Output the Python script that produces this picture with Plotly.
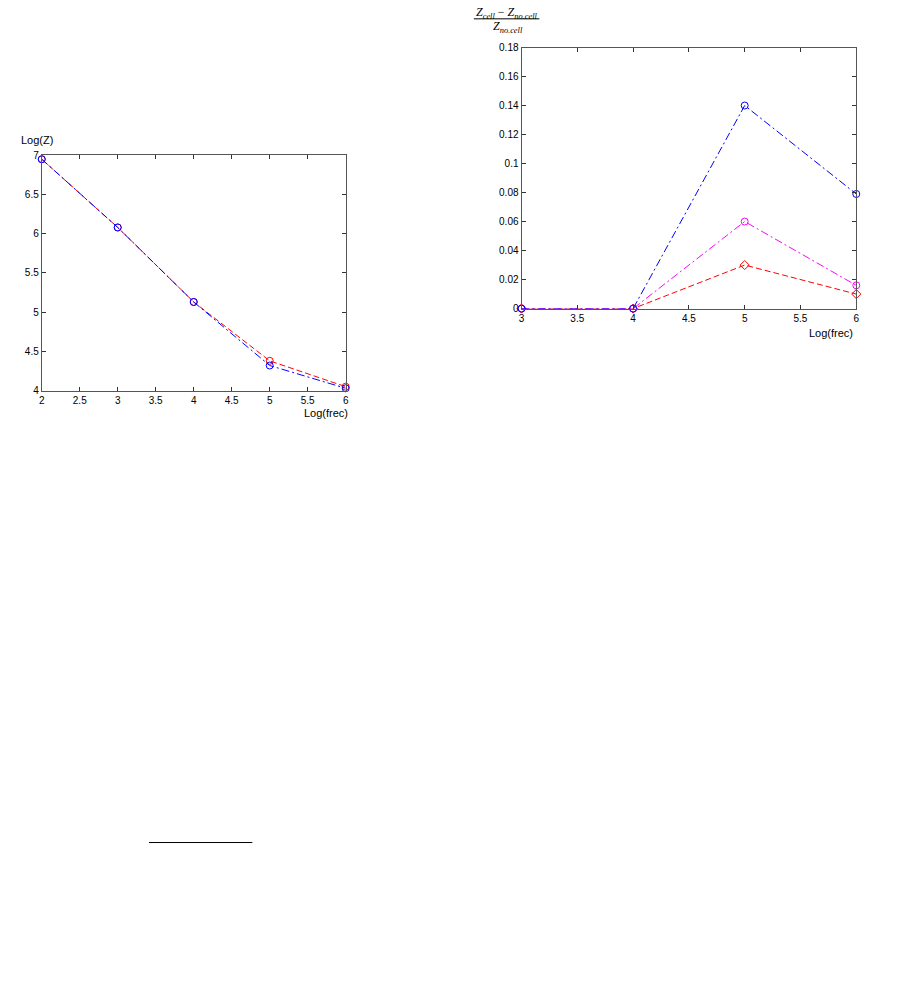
import plotly.graph_objects as go

# ---- data ----
left_x = [2, 3, 4, 5, 6]
left_blue = [6.95, 6.08, 5.13, 4.32, 4.03]
left_red = [6.95, 6.08, 5.13, 4.38, 4.05]

right_x = [3, 4, 5, 6]
right_blue = [0.0, 0.0, 0.14, 0.079]
right_magenta = [0.0, 0.0, 0.06, 0.016]
right_red = [0.0, 0.0, 0.03, 0.010]

left_xticks = [2, 2.5, 3, 3.5, 4, 4.5, 5, 5.5, 6]
left_xlabels = ["2", "2.5", "3", "3.5", "4", "4.5", "5", "5.5", "6"]
left_yticks = [4, 4.5, 5, 5.5, 6, 6.5, 7]
left_ylabels = ["4", "4.5", "5", "5.5", "6", "6.5", "7"]
right_xticks = [3, 3.5, 4, 4.5, 5, 5.5, 6]
right_xlabels = ["3", "3.5", "4", "4.5", "5", "5.5", "6"]
right_yticks = [0, 0.02, 0.04, 0.06, 0.08, 0.1, 0.12, 0.14, 0.16, 0.18]
right_ylabels = ["0", "0.02", "0.04", "0.06", "0.08", "0.1", "0.12", "0.14", "0.16", "0.18"]

W, H = 901, 983
BLUE, RED, MAG = "#0000ff", "#ff0000", "#ff00ff"

fig = go.Figure()

def line(x, y, color, dash, symbol, xa, ya):
    fig.add_trace(go.Scatter(
        x=x, y=y, mode="lines+markers", xaxis=xa, yaxis=ya,
        line=dict(color=color, width=1, dash=dash),
        marker=dict(symbol=symbol, size=7, color=color, line=dict(color=color, width=1)),
        showlegend=False, hoverinfo="x+y", cliponaxis=False))

line(left_x, left_red, RED, "6px,3px", "circle-open", "x", "y")
line(left_x, left_blue, BLUE, "8px,3px,2px,3px", "circle-open", "x", "y")

line(right_x, right_red, RED, "6px,3px", "diamond-open", "x2", "y2")
line(right_x, right_magenta, MAG, "8px,3px,2px,3px", "circle-open", "x2", "y2")
line(right_x, right_blue, BLUE, "8px,3px,2px,3px", "circle-open", "x2", "y2")

axis_common = dict(
    showgrid=False, zeroline=False, showline=True, mirror="ticks",
    linecolor="#555555", linewidth=1, ticks="inside", ticklen=4,
    tickcolor="#333333", tickfont=dict(family="Liberation Sans, Arial", size=10, color="#000000"),
)

fig.update_layout(
    width=W, height=H, margin=dict(l=0, r=0, t=0, b=0),
    paper_bgcolor="white", plot_bgcolor="white",
    xaxis=dict(domain=[39 / W, 345 / W], range=[2, 6], anchor="y",
               tickvals=left_xticks, ticktext=left_xlabels, **axis_common),
    yaxis=dict(domain=[1 - 390 / H, 1 - 152 / H], range=[4, 7], anchor="x",
               tickvals=left_yticks, ticktext=left_ylabels, **axis_common),
    xaxis2=dict(domain=[522 / W, 859 / W], range=[3, 6], anchor="y2",
                tickvals=right_xticks, ticktext=right_xlabels, **axis_common),
    yaxis2=dict(domain=[1 - 307 / H, 1 - 43 / H], range=[0, 0.18], anchor="x2",
                tickvals=right_yticks, ticktext=right_ylabels, **axis_common),
)

font = dict(family="Liberation Sans, Arial", size=11, color="#000000")
annos = [
    dict(text="Log(Z)", x=34 / W, y=1 - 137 / H),
    dict(text="Log(frec)", x=325 / W, y=1 - 413 / H),
    dict(text="Log(frec)", x=834 / W, y=1 - 332 / H),
]
for a in annos:
    fig.add_annotation(text=a["text"], x=a["x"], y=a["y"], xref="paper", yref="paper",
                       showarrow=False, xanchor="center", yanchor="middle", font=font)

serif = dict(family="Liberation Serif, Times New Roman", size=12, color="#000")
fig.add_annotation(text="<i>Z<sub>cell</sub></i> − <i>Z<sub>no.cell</sub></i>",
                   x=507 / W, y=1 - 8 / H, xref="paper", yref="paper", showarrow=False,
                   xanchor="center", yanchor="middle", font=serif)
fig.add_annotation(text="<i>Z<sub>no.cell</sub></i>",
                   x=508 / W, y=1 - 22 / H, xref="paper", yref="paper", showarrow=False,
                   xanchor="center", yanchor="middle", font=serif)
fig.add_shape(type="line", xref="paper", yref="paper",
              x0=474 / W, x1=540 / W, y0=1 - 14 / H, y1=1 - 14 / H,
              line=dict(color="#000", width=1))

# footnote separator line
fig.add_shape(type="line", xref="paper", yref="paper",
              x0=147 / W, x1=251 / W, y0=1 - 847 / H, y1=1 - 847 / H,
              line=dict(color="#000", width=1))

fig.write_html("out.html", config={"displayModeBar": False},
               post_script="document.body.style.margin='0px';")
